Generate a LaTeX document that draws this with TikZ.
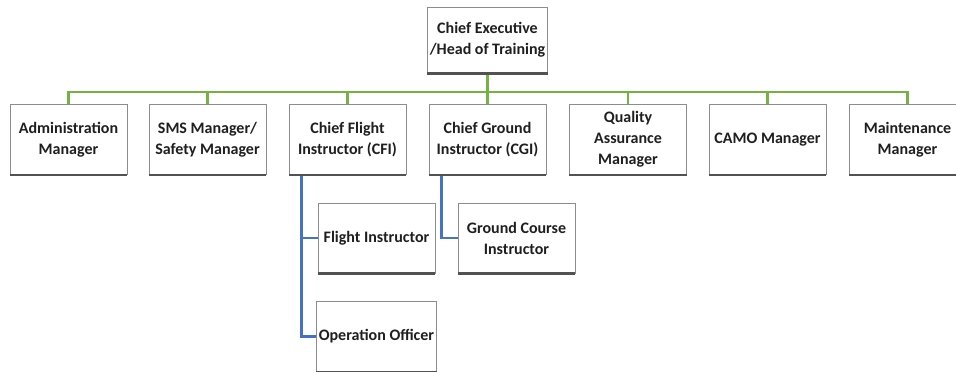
\documentclass[tikz,border=0pt]{standalone}
\usepackage{fontspec}
\setmainfont{Carlito}
\usetikzlibrary{calc}
\definecolor{busgreen}{RGB}{116,178,66}
\definecolor{subblue}{RGB}{68,114,196}
\tikzset{
	orgbox/.style={draw=black!45, line width=0.8pt, fill=white, minimum width=117pt, minimum height=70pt, align=center, inner sep=2pt, text=black!88, font=\fontsize{16}{21}\selectfont\bfseries},
	busline/.style={line width=2.6pt, color=busgreen},
	subline/.style={line width=2.6pt, color=subblue},
	shadowline/.style={line width=2.6pt, color=black!68}
}

\begin{document}
\begin{tikzpicture}[x=1pt, y=-1pt]
			%%%%% START %%%%%
			\clip (0, 0) rectangle (956, 372);
			
			\coordinate (bus) at (0, 92);
			
			\node[orgbox, minimum height=66pt] (chief) at (487.5, 40) {Chief Executive\\/Head of Training};
			
			\node[orgbox] (admin) at (68.5, 139.5) {Administration\\Manager};
			\node[orgbox] (sms) at (207.5, 139.5) {SMS Manager/\\Safety Manager};
			\node[orgbox] (cfi) at (347.5, 139.5) {Chief Flight\\Instructor (CFI)};
			\node[orgbox] (cgi) at (487.5, 139.5) {Chief Ground\\Instructor (CGI)};
			\node[orgbox] (qa) at (628, 139.5) {Quality\\Assurance\\Manager};
			\node[orgbox] (camo) at (767.5, 139.5) {CAMO Manager};
			\node[orgbox] (maint) at (907.5, 139.5) {Maintenance\\Manager};
			
			\node[orgbox] (fi) at (376.5, 238) {Flight Instructor};
			\node[orgbox] (op) at (376.5, 336.5) {Operation Officer};
			\node[orgbox] (gci) at (516.5, 238) {Ground Course\\Instructor};
			
			% green bus
			\foreach \n in {admin, sms, cfi, cgi, qa, camo, maint}
				\draw[busline] (chief.south) |- (\n.north |- bus) -- (\n.north);
			
			% blue branches
			\coordinate (cfitrunk) at ($(cfi.south west)+(13, 0)$);
			\coordinate (cgitrunk) at ($(cgi.south west)+(13, 0)$);
			\draw[subline] (cfitrunk) |- (op.west);
			\draw[subline] (cfitrunk) |- (fi.west);
			\draw[subline] (cgitrunk) |- (gci.west);
			
			% dark bottom edges
			\foreach \n in {chief, admin, sms, cfi, cgi, qa, camo, maint, fi, op, gci}
				\draw[shadowline] (\n.south west) -- (\n.south east);
			
			%%%%% END %%%%%
		\end{tikzpicture}
\end{document}
